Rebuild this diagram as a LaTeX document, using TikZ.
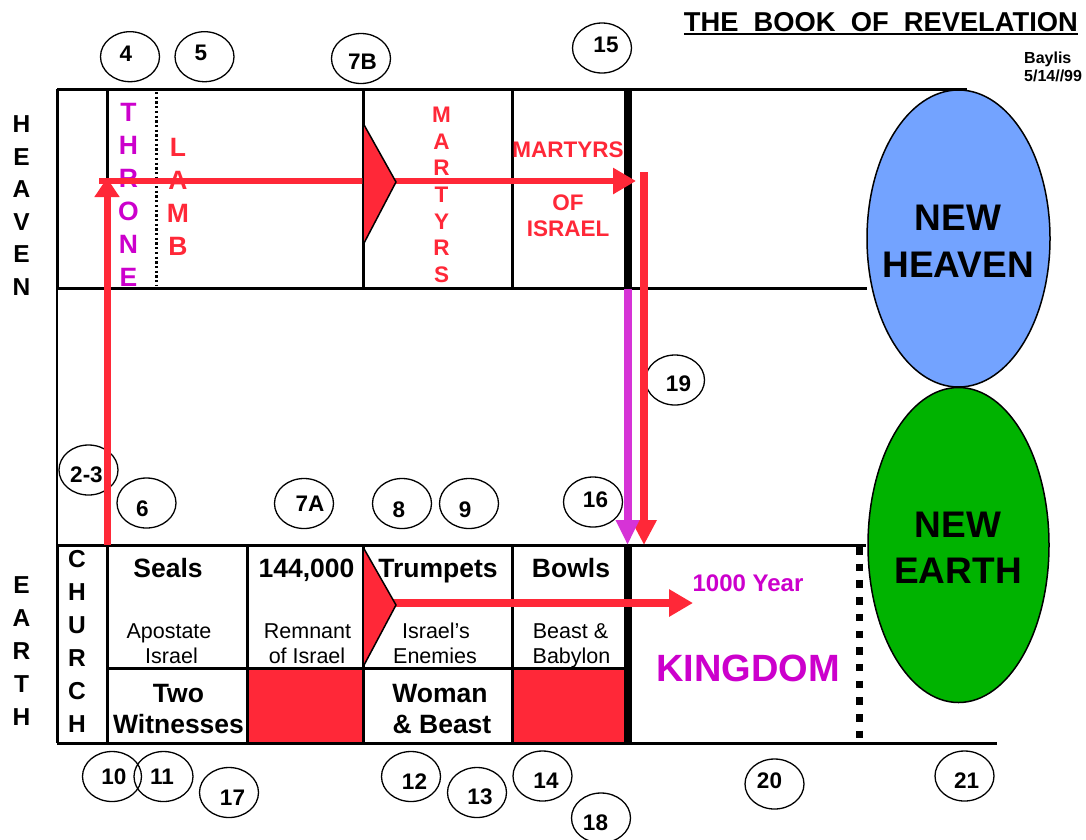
\documentclass[tikz,border=0pt]{standalone}
\usepackage{fontspec}
\setmainfont{Liberation Sans}
\usetikzlibrary{shapes.geometric,arrows.meta}
\definecolor{rred}{RGB}{255,40,56}
\definecolor{ppl}{RGB}{214,51,214}
\definecolor{mag}{RGB}{204,0,204}
\definecolor{skyb}{RGB}{115,163,255}
\definecolor{grn}{RGB}{0,179,0}
\begin{document}
\begin{tikzpicture}[x=1pt,y=-1pt,
  bx/.style={line width=3},
  thk/.style={line width=7.5},
  numc/.style={ellipse,draw,line width=1.3,minimum width=59,minimum height=50,inner sep=0},
  numt/.style={font=\bfseries\fontsize{22.5}{22.5}\selectfont,inner sep=0},
  vl/.style={font=\bfseries\fontsize{24.5}{24.5}\selectfont,inner sep=0},
  vlc/.style={font=\bfseries\fontsize{26.5}{26.5}\selectfont,inner sep=0},
  vlm/.style={font=\bfseries\fontsize{22.5}{22.5}\selectfont,inner sep=0,text=rred},
  hd/.style={font=\bfseries\fontsize{26.5}{28}\selectfont,anchor=base,inner sep=0},
  sb/.style={font=\fontsize{21.5}{24}\selectfont,anchor=base,inner sep=0},
  big/.style={font=\bfseries\fontsize{37}{40}\selectfont,anchor=base,inner sep=0},
  redarrow/.style={draw=rred,-{Triangle[width=25pt,length=23pt]}},
  pennant/.style={fill=rred,draw=black,line width=1.5,line join=miter}
]
\useasboundingbox[fill=white] (0,0) rectangle (1086,839);

% red fills
\fill[rred] (247,668) rectangle (363,743);
\fill[rred] (512,668) rectangle (628,743);

% heaven box
\draw[bx] (57,89) -- (967,89);
\draw[bx] (57,288) -- (867,288);
\draw[bx] (57,89) -- (57,288);
\draw[bx] (107,89) -- (107,288);
\draw[bx] (363,89) -- (363,288);
\draw[bx] (512,89) -- (512,288);
\draw[thk] (628,89) -- (628,288);
\draw[line width=2.5,dash pattern=on 2.3pt off 2.4pt] (156.5,92) -- (156.5,286);
% left thin line
\draw[line width=1.5] (57,288) -- (57,545);
% earth box
\draw[bx] (57,545) -- (866,545);
\draw[bx] (57,743) -- (997,743);
\draw[bx] (57,545) -- (57,743);
\draw[bx] (107,545) -- (107,743);
\draw[bx] (247,545) -- (247,743);
\draw[bx] (363,545) -- (363,743);
\draw[bx] (512,545) -- (512,743);
\draw[bx] (107,668) -- (628,668);
\draw[thk] (628,545) -- (628,743);
\draw[line width=7,dash pattern=on 7.5pt off 9.2pt] (859.5,547) -- (859.5,743);

% new heaven / new earth
\node[ellipse,draw,line width=1.5,fill=skyb,minimum width=183,minimum height=297,inner sep=0] (nh) at (958.5,238.5) {};
\node[ellipse,draw,line width=1.5,fill=grn,minimum width=181,minimum height=315,inner sep=0] (ne) at (958.5,545) {};
\node[big] (nh1) at (958,230) {NEW};
\node[big] (nh2) at (958,277) {HEAVEN};
\node[big] (ne1) at (958,537) {NEW};
\node[big] (ne2) at (958,583) {EARTH};

% title
\node[font=\bfseries\fontsize{27.3}{28}\selectfont,anchor=base east,inner sep=0] (title) at (1078,31.5) {THE\ \ BOOK\ \ OF\ \ REVELATION};
\draw[line width=2] ([yshift=-2.5pt]title.base west) -- ([yshift=-2.5pt]title.base east);
\node[font=\bfseries\fontsize{16}{16}\selectfont,anchor=base west,inner sep=0] (bay) at (1024,63.5) {Baylis};
\node[font=\bfseries\fontsize{16}{16}\selectfont,anchor=base west,inner sep=0] (date) at (1024,81.5) {5/14//99};

% side letters
\foreach \l [count=\i from 0] in {H,E,A,V,E,N}
  \node[vl] (hv\i) at (21.5,{124+\i*32.6}) {\l};
\foreach \l [count=\i from 0] in {E,A,R,T,H}
  \node[vl] (ea\i) at (21.5,{585+\i*33}) {\l};
\foreach \l [count=\i from 0] in {C,H,U,R,C,H}
  \node[vl] (ch\i) at (77,{559+\i*33}) {\l};
\foreach \l [count=\i from 0] in {T,H,R,O,N,E}
  \node[vlc,text=mag] (th\i) at (128.5,{112.5+\i*33}) {\l};
\foreach \l [count=\i from 0] in {L,A,M,B}
  \node[vlc,text=rred] (lb\i) at (178,{147+\i*33}) {\l};
\foreach \l [count=\i from 0] in {M,A,R,T,Y,R,S}
  \node[vlm] (mt\i) at (441.5,{115+\i*26.6}) {\l};

\node[vlm] (moi1) at (568,150) {MARTYRS};
\node[vlm] (moi2) at (568,203) {OF};
\node[vlm] (moi3) at (568,228.5) {ISRAEL};

% earth texts
\node[hd] (seals) at (168,577) {Seals};
\node[hd] (k144) at (306.5,577) {144,000};
\node[hd] (trump) at (438,577) {Trumpets};
\node[hd] (bowls) at (571,577) {Bowls};
\node[sb] (s1a) at (169,638) {Apostate};
\node[sb] (s1b) at (171.5,663) {Israel};
\node[sb] (s2a) at (307.5,638) {Remnant};
\node[sb] (s2b) at (307,663) {of Israel};
\node[sb] (s3a) at (436,638) {Israel’s};
\node[sb] (s3b) at (435,663) {Enemies};
\node[sb] (s4a) at (570.5,638) {Beast \&};
\node[sb] (s4b) at (571.5,663) {Babylon};
\node[hd] (tw1) at (178.5,702) {Two};
\node[hd] (tw2) at (178.5,733) {Witnesses};
\node[hd] (wb1) at (440,702) {Woman};
\node[hd] (wb2) at (442,733) {\& Beast};
\node[font=\bfseries\fontsize{24}{24}\selectfont,anchor=base,inner sep=0,text=mag] (yr) at (748,591.5) {1000 Year};
\node[font=\bfseries\fontsize{38}{38}\selectfont,anchor=base,inner sep=0,text=mag] (kg) at (748,681) {KINGDOM};

% number ellipses
\node[numc] (c4) at (130,56.7) {};   \node[numt] (t4) at (126,53.8) {4};
\node[numc] (c5) at (204.5,56.7) {}; \node[numt] (t5) at (201,52.5) {5};
\node[numc] (c7b) at (361,58.5) {};  \node[numt] (t7b) at (362.5,61.5) {7B};
\node[numc] (c15) at (602,48) {};    \node[numt] (t15) at (606,45) {15};
\node[numc] (c19) at (675,380) {};   \node[numt] (t19) at (678.5,384) {19};
\node[numc] (c23) at (88.5,470) {};  \node[numt] (t23) at (86.5,475) {2-3};
\node[numc] (c6) at (146.5,503) {};  \node[numt] (t6) at (142.5,508.5) {6};
\node[numc] (c7a) at (304,503.5) {}; \node[numt] (t7a) at (310,503.5) {7A};
\node[numc] (c8) at (402,503.5) {};  \node[numt] (t8) at (399,509.5) {8};
\node[numc] (c9) at (469,503.5) {};  \node[numt] (t9) at (465,509.5) {9};
\node[numc] (c16) at (593,502) {};   \node[numt] (t16) at (595.5,500) {16};
\node[numc] (c10) at (112,776.5) {}; \node[numt] (t10) at (114,777) {10};
\node[numc] (c11) at (163.5,776.5) {}; \node[numt] (t11) at (162,777) {11};
\node[numc] (c17) at (229,792.5) {}; \node[numt] (t17) at (232.5,797.5) {17};
\node[numc] (c12) at (411,776.5) {}; \node[numt] (t12) at (414.5,781.5) {12};
\node[numc] (c13) at (477,792.5) {}; \node[numt] (t13) at (480,797) {13};
\node[numc] (c14) at (542.5,776) {}; \node[numt] (t14) at (546,780.5) {14};
\node[numc] (c18) at (601,818) {};   \node[numt] (t18) at (595.5,822.5) {18};
\node[numc] (c20) at (774.5,784) {}; \node[numt] (t20) at (769.5,781) {20};
\node[numc] (c21) at (964.5,776) {}; \node[numt] (t21) at (966.5,781) {21};

% arrows
\coordinate (upS) at (107,545);
\coordinate (upE) at (107,178);
\coordinate (hS) at (99,181);
\coordinate (hE) at (636,181);
\coordinate (dS) at (644,172);
\coordinate (dE) at (644,545);
\coordinate (pS) at (627.5,289);
\coordinate (pE) at (627.5,545);
\coordinate (eS) at (385,603);
\coordinate (eE) at (693,603);
\draw[draw=rred,line width=7,-{Triangle[width=24pt,length=19pt]}] (upS) -- (upE);
\draw[redarrow,line width=6.5] (hS) -- (hE);
\draw[pennant] (363,123) -- (396,182) -- (363,245) -- cycle;
\draw[redarrow,line width=8,-{Triangle[width=24pt,length=25pt]}] (dS) -- (dE);
\draw[draw=ppl,line width=8,-{Triangle[width=22pt,length=25pt]}] (pS) -- (pE);
\draw[redarrow,line width=7.5,-{Triangle[width=26pt,length=24pt]}] (eS) -- (eE);
\draw[pennant] (363,547) -- (396,605) -- (363,667) -- cycle;
\end{tikzpicture}
\end{document}
